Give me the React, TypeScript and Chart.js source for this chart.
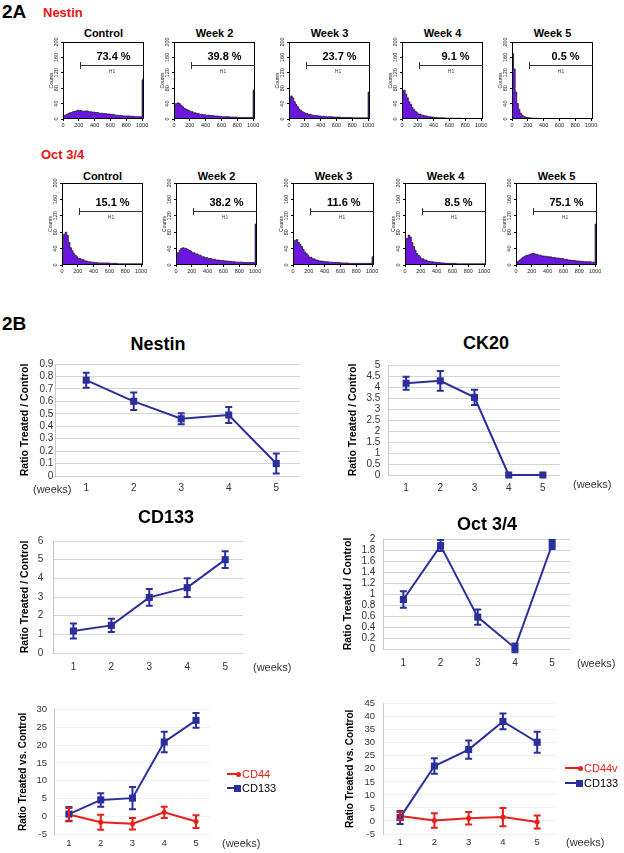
import React, { useEffect, useRef } from 'react';
import { Chart, registerables } from 'chart.js';

Chart.register(...registerables);

const FONT = "'Liberation Sans', Arial, Helvetica, sans-serif";
const BLUE = '#2B2F9C';
const RED = '#E8201A';
const PURPLE = '#6B16DC';

// ---------- 2A : flow cytometry histograms ----------
const HIST_X = [0, 20, 40, 60, 80, 100, 120, 140, 160, 180, 200, 240, 280, 320, 360, 400, 450, 500, 550, 600, 650, 700, 750, 800, 850, 900, 950, 1000, 1012, 1024];
const HIST_X_TICKS = [0, 200, 400, 600, 800, 1000];
const HIST_Y_TICKS = [0, 40, 80, 120, 160, 200];
const HIST_TITLES = ['Control', 'Week 2', 'Week 3', 'Week 4', 'Week 5'];
const GATE_START = 210;
const PCT_RIGHT = 855;
const H1_X = 620;

const NESTIN_CONTROL = [5, 8, 10, 12, 14, 16, 17, 19, 20, 21, 23, 22, 20, 21, 19, 18, 17, 15, 14, 13, 12, 10, 9, 8, 8, 7, 6, 6, 102, 0];
const NESTIN_W2 = [15, 35, 40, 42, 40, 36, 32, 28, 26, 24, 22, 19, 16, 14, 12, 11, 10, 9, 8, 7, 6, 6, 5, 5, 4, 4, 4, 4, 75, 0];
const NESTIN_W3 = [20, 50, 60, 55, 45, 38, 32, 26, 22, 19, 17, 14, 12, 10, 9, 8, 7, 6, 6, 5, 5, 4, 4, 4, 3, 3, 3, 3, 70, 0];
const NESTIN_W4 = [25, 70, 75, 65, 55, 45, 38, 30, 25, 20, 17, 13, 10, 8, 6, 5, 4, 3, 3, 2, 2, 2, 2, 1, 1, 1, 1, 1, 2, 0];
const NESTIN_W5 = [60, 170, 130, 70, 40, 25, 15, 10, 7, 5, 4, 3, 2, 2, 1, 1, 1, 1, 1, 0.5, 0.5, 0.5, 0.5, 0.5, 0.5, 0.5, 0.5, 0.5, 1, 0];
const OCT_CONTROL = [10, 40, 75, 80, 72, 55, 42, 35, 28, 24, 20, 16, 13, 10, 8, 7, 6, 5, 5, 5, 4, 4, 3, 3, 3, 3, 3, 3, 3, 0];
const OCT_W2 = [8, 20, 30, 36, 40, 42, 41, 40, 38, 36, 34, 30, 27, 24, 20, 18, 16, 14, 12, 11, 10, 9, 8, 7, 7, 6, 6, 6, 100, 0];
const OCT_W3 = [15, 45, 60, 62, 55, 50, 45, 38, 32, 28, 24, 19, 15, 12, 10, 9, 8, 7, 6, 6, 5, 5, 4, 4, 4, 4, 4, 4, 20, 0];
const OCT_W4 = [10, 40, 65, 73, 68, 55, 45, 36, 28, 24, 20, 15, 12, 9, 8, 7, 6, 5, 4, 4, 4, 3, 3, 3, 3, 3, 3, 3, 3, 0];
const OCT_W5 = [3, 6, 9, 12, 15, 19, 21, 23, 24, 25, 27, 28, 26, 24, 22, 21, 20, 18, 17, 16, 14, 12, 11, 10, 9, 8, 8, 7, 100, 0];

const NESTIN_HISTS = [NESTIN_CONTROL, NESTIN_W2, NESTIN_W3, NESTIN_W4, NESTIN_W5];
const OCT_HISTS = [OCT_CONTROL, OCT_W2, OCT_W3, OCT_W4, OCT_W5];
const NESTIN_PCT = ['73.4 %', '39.8 %', '23.7 %', '9.1 %', '0.5 %'];
const OCT_PCT = ['15.1 %', '38.2 %', '11.6 %', '8.5 %', '75.1 %'];
const NESTIN_GATE = 140;
const OCT_GATE = 132;

// ---------- 2B : ratio curves ----------
const WEEKS = [1, 2, 3, 4, 5];
const NESTIN_RATIO = [0.77, 0.6, 0.46, 0.49, 0.1];
const NESTIN_ERR = [0.06, 0.07, 0.045, 0.065, 0.08];
const NESTIN_TICKS = [0, 0.1, 0.2, 0.3, 0.4, 0.5, 0.6, 0.7, 0.8, 0.9];
const CK20_RATIO = [4.17, 4.28, 3.53, 0, 0];
const CK20_ERR = [0.3, 0.45, 0.35, 0, 0];
const CK20_TICKS = [0, 0.5, 1, 1.5, 2, 2.5, 3, 3.5, 4, 4.5, 5];
const CD133_RATIO = [1.18, 1.48, 2.98, 3.5, 5.0];
const CD133_ERR = [0.4, 0.35, 0.45, 0.5, 0.45];
const CD133_TICKS = [0, 1, 2, 3, 4, 5, 6];
const OCT_RATIO = [0.9, 1.88, 0.58, 0.02, 1.9];
const OCT_ERR = [0.15, 0.1, 0.14, 0.08, 0.08];
const OCT_TICKS = [0, 0.2, 0.4, 0.6, 0.8, 1, 1.2, 1.4, 1.6, 1.8, 2];
const A_CD44 = [0.5, -1.7, -2.1, 1.1, -1.5];
const A_CD44_ERR = [1.8, 2.1, 1.6, 1.6, 1.8];
const A_CD133 = [0.6, 4.6, 5.1, 20.9, 27];
const A_CD133_ERR = [2.0, 1.9, 3.1, 2.9, 2.1];
const A_TICKS = [-5, 0, 5, 10, 15, 20, 25, 30];
const B_CD44V = [1.9, 0.2, 1.0, 1.5, -0.4];
const B_CD44V_ERR = [1.5, 2.8, 2.4, 3.5, 2.5];
const B_CD133 = [1.3, 21.1, 27.4, 38.2, 30.2];
const B_CD133_ERR = [2.5, 3.0, 3.5, 3.0, 4.0];
const B_TICKS = [-5, 0, 5, 10, 15, 20, 25, 30, 35, 40, 45];

function Txt({ x, y, text, size, bold = false, color = '#000', align = 'left' }: any) {
  const tx = align === 'center' ? '-50%' : align === 'right' ? '-100%' : '0';
  return (
    <div
      style={{
        position: 'absolute', left: x, top: y, transform: `translate(${tx}, -50%)`,
        fontSize: size, fontWeight: bold ? 700 : 400, color, lineHeight: 1,
        whiteSpace: 'nowrap', fontFamily: FONT,
      }}
    >
      {text}
    </div>
  );
}

function Histogram({ l, t, r, b, counts, pct, gate }: any) {
  const ref = useRef<HTMLCanvasElement>(null);
  const YW = 14, XH = 12, PT = 8, PR = 10;
  const W = r - l + YW + PR;
  const H = b - t + PT + XH;
  useEffect(() => {
    const gatePlugin = {
      id: 'gate',
      afterDatasetsDraw(chart: any) {
        const { ctx, chartArea: a, scales } = chart;
        const x = scales.x, y = scales.y;
        ctx.save();
        ctx.strokeStyle = '#000';
        ctx.lineWidth = 1;
        ctx.strokeRect(Math.round(a.left) + 0.5, Math.round(a.top) + 0.5, Math.round(a.right - a.left) - 1, Math.round(a.bottom - a.top) - 1);
        const gy = Math.round(y.getPixelForValue(gate)) + 0.5;
        const gx = Math.round(x.getPixelForValue(GATE_START)) + 0.5;
        ctx.strokeStyle = '#333';
        ctx.beginPath();
        ctx.moveTo(gx, gy);
        ctx.lineTo(a.right, gy);
        ctx.moveTo(gx, gy - 3.5);
        ctx.lineTo(gx, gy + 3.5);
        ctx.stroke();
        ctx.fillStyle = '#000';
        ctx.font = `bold 11px ${FONT}`;
        ctx.textAlign = 'right';
        ctx.textBaseline = 'middle';
        ctx.fillText(pct, x.getPixelForValue(PCT_RIGHT), gy - 9);
        ctx.font = `5px ${FONT}`;
        ctx.fillStyle = '#444';
        ctx.textAlign = 'center';
        ctx.fillText('H1', x.getPixelForValue(H1_X), gy + 6);
        ctx.restore();
      },
    };
    const chart = new Chart(ref.current as HTMLCanvasElement, {
      type: 'line',
      data: {
        datasets: [
          {
            data: HIST_X.map((x, i) => ({ x, y: counts[i] })),
            stepped: 'after',
            fill: 'origin',
            backgroundColor: PURPLE,
            borderColor: '#111',
            borderWidth: 0.7,
            pointRadius: 0,
          } as any,
        ],
      },
      options: {
        responsive: false,
        animation: false,
        events: [],
        layout: { padding: { left: 0, top: PT, right: PR, bottom: 0 } },
        plugins: { legend: { display: false }, tooltip: { enabled: false } },
        scales: {
          x: {
            type: 'linear', min: 0, max: 1024, bounds: 'data',
            afterBuildTicks: (ax: any) => { ax.ticks = HIST_X_TICKS.map((v) => ({ value: v })); },
            afterFit: (ax: any) => { ax.height = XH; },
            grid: { drawOnChartArea: false, drawTicks: true, tickLength: 2, color: '#000' },
            border: { display: false },
            ticks: { font: { family: FONT, size: 5.5 }, color: '#222', padding: 1, maxRotation: 0, autoSkip: false, callback: (v: any) => String(v) },
          },
          y: {
            type: 'linear', min: 0, max: 200, bounds: 'data',
            afterBuildTicks: (ax: any) => { ax.ticks = HIST_Y_TICKS.map((v) => ({ value: v })); },
            afterFit: (ax: any) => { ax.width = YW; },
            grid: { drawOnChartArea: false, drawTicks: true, tickLength: 2, color: '#000' },
            border: { display: false },
            title: { display: true, text: 'Counts', font: { family: FONT, size: 5 }, color: '#222', padding: 0 },
            ticks: { font: { family: FONT, size: 5.5 }, color: '#222', padding: 0, minRotation: 90, maxRotation: 90, crossAlign: 'center', autoSkip: false, callback: (v: any) => String(v) },
          },
        },
      } as any,
      plugins: [gatePlugin],
    });
    return () => chart.destroy();
  }, []);
  return (
    <canvas
      ref={ref}
      width={W}
      height={H}
      style={{ position: 'absolute', left: l - YW, top: t - PT, width: W, height: H }}
    />
  );
}

const errorBars = {
  id: 'errorBars',
  afterDatasetsDraw(chart: any) {
    const { ctx, scales } = chart;
    const x = scales.x, y = scales.y;
    chart.data.datasets.forEach((ds: any) => {
      const errs = ds.errors;
      if (!errs) return;
      ctx.save();
      ctx.strokeStyle = ds.borderColor;
      ctx.lineWidth = 2;
      ds.data.forEach((p: any, i: number) => {
        const e = errs[i];
        if (!e) return;
        const px = x.getPixelForValue(p.x);
        const y1 = y.getPixelForValue(p.y - e);
        const y2 = y.getPixelForValue(p.y + e);
        ctx.beginPath();
        ctx.moveTo(px, y1);
        ctx.lineTo(px, y2);
        ctx.moveTo(px - 3.5, y1);
        ctx.lineTo(px + 3.5, y1);
        ctx.moveTo(px - 3.5, y2);
        ctx.lineTo(px + 3.5, y2);
        ctx.stroke();
      });
      ctx.restore();
    });
  },
};

function RatioChart({ l, t, r, b, yw, xMin, xMax, yTicks, yTitle, yTitleSize, tickPadY, tickPadX, tickSize, series, gridColor, axisColor }: any) {
  const ref = useRef<HTMLCanvasElement>(null);
  const PT = 12, PR = 14, XH = 24;
  const W = r - l + yw + PR;
  const H = b - t + PT + XH;
  useEffect(() => {
    const chart = new Chart(ref.current as HTMLCanvasElement, {
      type: 'line',
      data: {
        datasets: series.map((s: any) => ({
          data: WEEKS.map((w, i) => ({ x: w, y: s.values[i] })),
          errors: s.errors,
          borderColor: s.color,
          backgroundColor: s.color,
          borderWidth: 2,
          pointStyle: s.pointStyle,
          pointRadius: s.radius,
          pointBorderWidth: 0,
          tension: 0,
          clip: false,
        })),
      },
      options: {
        responsive: false,
        animation: false,
        events: [],
        layout: { padding: { left: 0, top: PT, right: PR, bottom: 0 } },
        plugins: { legend: { display: false }, tooltip: { enabled: false } },
        scales: {
          x: {
            type: 'linear', min: xMin, max: xMax, bounds: 'data',
            afterBuildTicks: (ax: any) => { ax.ticks = WEEKS.map((v) => ({ value: v })); },
            afterFit: (ax: any) => { ax.height = XH; },
            grid: { display: false, drawTicks: false },
            border: { display: false },
            ticks: { padding: tickPadX, font: { family: FONT, size: tickSize }, color: '#333', autoSkip: false, maxRotation: 0, callback: (v: any) => String(v) },
          },
          y: {
            type: 'linear', min: yTicks[0], max: yTicks[yTicks.length - 1], bounds: 'data',
            afterBuildTicks: (ax: any) => { ax.ticks = yTicks.map((v: number) => ({ value: v })); },
            afterFit: (ax: any) => { ax.width = yw; },
            grid: { color: gridColor, drawTicks: false, lineWidth: 1 },
            border: { display: true, color: axisColor },
            title: { display: true, text: yTitle, font: { family: FONT, size: yTitleSize, weight: 'bold' }, color: '#000', padding: 0 },
            ticks: { padding: tickPadY, font: { family: FONT, size: tickSize }, color: '#333', autoSkip: false, callback: (v: any) => String(Math.round(v * 100) / 100) },
          },
        },
      } as any,
      plugins: [errorBars],
    });
    return () => chart.destroy();
  }, []);
  return (
    <canvas
      ref={ref}
      width={W}
      height={H}
      style={{ position: 'absolute', left: l - yw, top: t - PT, width: W, height: H }}
    />
  );
}

function LegendItem({ x1, x2, y, color, text, textColor, marker }: any) {
  return (
    <>
      <div style={{ position: 'absolute', left: x1, top: y - 1, width: x2 - x1, height: 2, background: color }} />
      {marker === 'square' ? (
        <div style={{ position: 'absolute', left: x2 - 6, top: y - 3.5, width: 7, height: 7, background: color }} />
      ) : (
        <div style={{ position: 'absolute', left: x2 - 4, top: y - 2.5, width: 5, height: 5, borderRadius: 3, background: color }} />
      )}
      <Txt x={x2 + 2} y={y} text={text} size={11} color={textColor} />
    </>
  );
}

const ROW1_LEFTS = [63, 174, 289, 402, 512];
const ROW2_LEFTS = [62, 176, 293, 405, 516];

export default function App() {
  return (
    <div style={{ position: 'absolute', left: 0, top: 0, width: 624, height: 853, background: '#fff', overflow: 'hidden', fontFamily: FONT }}>
      <Txt x={2} y={11} text="2A" size={19} bold />
      <Txt x={43} y={12} text="Nestin" size={13} bold color="#F01010" />
      {ROW1_LEFTS.map((l, i) => (
        <React.Fragment key={'n' + i}>
          <Txt x={l + 40.5} y={33} text={HIST_TITLES[i]} size={11} bold align="center" />
          <Histogram l={l} t={42} r={l + 81} b={119} counts={NESTIN_HISTS[i]} pct={NESTIN_PCT[i]} gate={NESTIN_GATE} />
        </React.Fragment>
      ))}
      <Txt x={41} y={154} text="Oct 3/4" size={13} bold color="#F01010" />
      {ROW2_LEFTS.map((l, i) => (
        <React.Fragment key={'o' + i}>
          <Txt x={l + 40.5} y={176} text={HIST_TITLES[i]} size={11} bold align="center" />
          <Histogram l={l} t={183} r={l + 81} b={265} counts={OCT_HISTS[i]} pct={OCT_PCT[i]} gate={OCT_GATE} />
        </React.Fragment>
      ))}

      <Txt x={2} y={323} text="2B" size={19} bold />

      <Txt x={158} y={344} text="Nestin" size={18} bold align="center" />
      <RatioChart l={55} t={364} r={300} b={476} yw={36.3} xMin={0.35} xMax={5.5} yTicks={NESTIN_TICKS}
        yTitle="Ratio Treated / Control" yTitleSize={10.5} tickPadY={2} tickPadX={6} tickSize={10}
        gridColor="#d4d4d4" axisColor="#c8c8c8"
        series={[{ values: NESTIN_RATIO, errors: NESTIN_ERR, color: BLUE, pointStyle: 'rect', radius: 5 }]} />
      <Txt x={33} y={489} text="(weeks)" size={11} color="#333" />

      <Txt x={486} y={343} text="CK20" size={18} bold align="center" />
      <RatioChart l={388} t={363} r={560} b={475} yw={41.3} xMin={0.48} xMax={5.5} yTicks={CK20_TICKS}
        yTitle="Ratio Treated / Control" yTitleSize={10.5} tickPadY={8} tickPadX={7} tickSize={10}
        gridColor="#d4d4d4" axisColor="#c8c8c8"
        series={[{ values: CK20_RATIO, errors: CK20_ERR, color: BLUE, pointStyle: 'rect', radius: 5 }]} />
      <Txt x={573} y={484} text="(weeks)" size={11} color="#333" />

      <Txt x={166} y={517} text="CD133" size={18} bold align="center" />
      <RatioChart l={53} t={537} r={243} b={653} yw={34.3} xMin={0.47} xMax={5.47} yTicks={CD133_TICKS}
        yTitle="Ratio Treated / Control" yTitleSize={10.5} tickPadY={10} tickPadX={8} tickSize={10}
        gridColor="#d4d4d4" axisColor="#c8c8c8"
        series={[{ values: CD133_RATIO, errors: CD133_ERR, color: BLUE, pointStyle: 'rect', radius: 5 }]} />
      <Txt x={253} y={667} text="(weeks)" size={11} color="#333" />

      <Txt x={487} y={524} text="Oct 3/4" size={18} bold align="center" />
      <RatioChart l={383} t={537} r={570} b={649} yw={41.3} xMin={0.46} xMax={5.48} yTicks={OCT_TICKS}
        yTitle="Ratio Treated / Control" yTitleSize={10.5} tickPadY={8} tickPadX={8} tickSize={10}
        gridColor="#d4d4d4" axisColor="#c8c8c8"
        series={[{ values: OCT_RATIO, errors: OCT_ERR, color: BLUE, pointStyle: 'rect', radius: 5 }]} />
      <Txt x={577} y={663} text="(weeks)" size={11} color="#333" />

      <RatioChart l={54} t={709} r={210} b={834} yw={37} xMin={0.53} xMax={5.44} yTicks={A_TICKS}
        yTitle="Ratio Treated vs. Control" yTitleSize={10} tickPadY={7} tickPadX={4} tickSize={9.5}
        gridColor="#f0f0f0" axisColor="#c8c8c8"
        series={[
          { values: A_CD133, errors: A_CD133_ERR, color: BLUE, pointStyle: 'rect', radius: 5 },
          { values: A_CD44, errors: A_CD44_ERR, color: RED, pointStyle: 'circle', radius: 2.5 },
        ]} />
      <Txt x={222} y={843} text="(weeks)" size={11} color="#333" />
      <LegendItem x1={227} x2={240} y={774} color={RED} text="CD44" textColor={RED} marker="dot" />
      <LegendItem x1={227} x2={240} y={788} color={BLUE} text="CD133" textColor="#000" marker="square" />

      <RatioChart l={383} t={702} r={555} b={834} yw={39} xMin={0.5} xMax={5.52} yTicks={B_TICKS}
        yTitle="Ratio Treated vs. Control" yTitleSize={10} tickPadY={8} tickPadX={3} tickSize={9.5}
        gridColor="#f0f0f0" axisColor="#c8c8c8"
        series={[
          { values: B_CD133, errors: B_CD133_ERR, color: BLUE, pointStyle: 'rect', radius: 5 },
          { values: B_CD44V, errors: B_CD44V_ERR, color: RED, pointStyle: 'circle', radius: 2.5 },
        ]} />
      <Txt x={566} y={842} text="(weeks)" size={11} color="#333" />
      <LegendItem x1={565} x2={582} y={768} color={RED} text="CD44v" textColor={RED} marker="dot" />
      <LegendItem x1={565} x2={582} y={783} color={BLUE} text="CD133" textColor="#000" marker="square" />
    </div>
  );
}
